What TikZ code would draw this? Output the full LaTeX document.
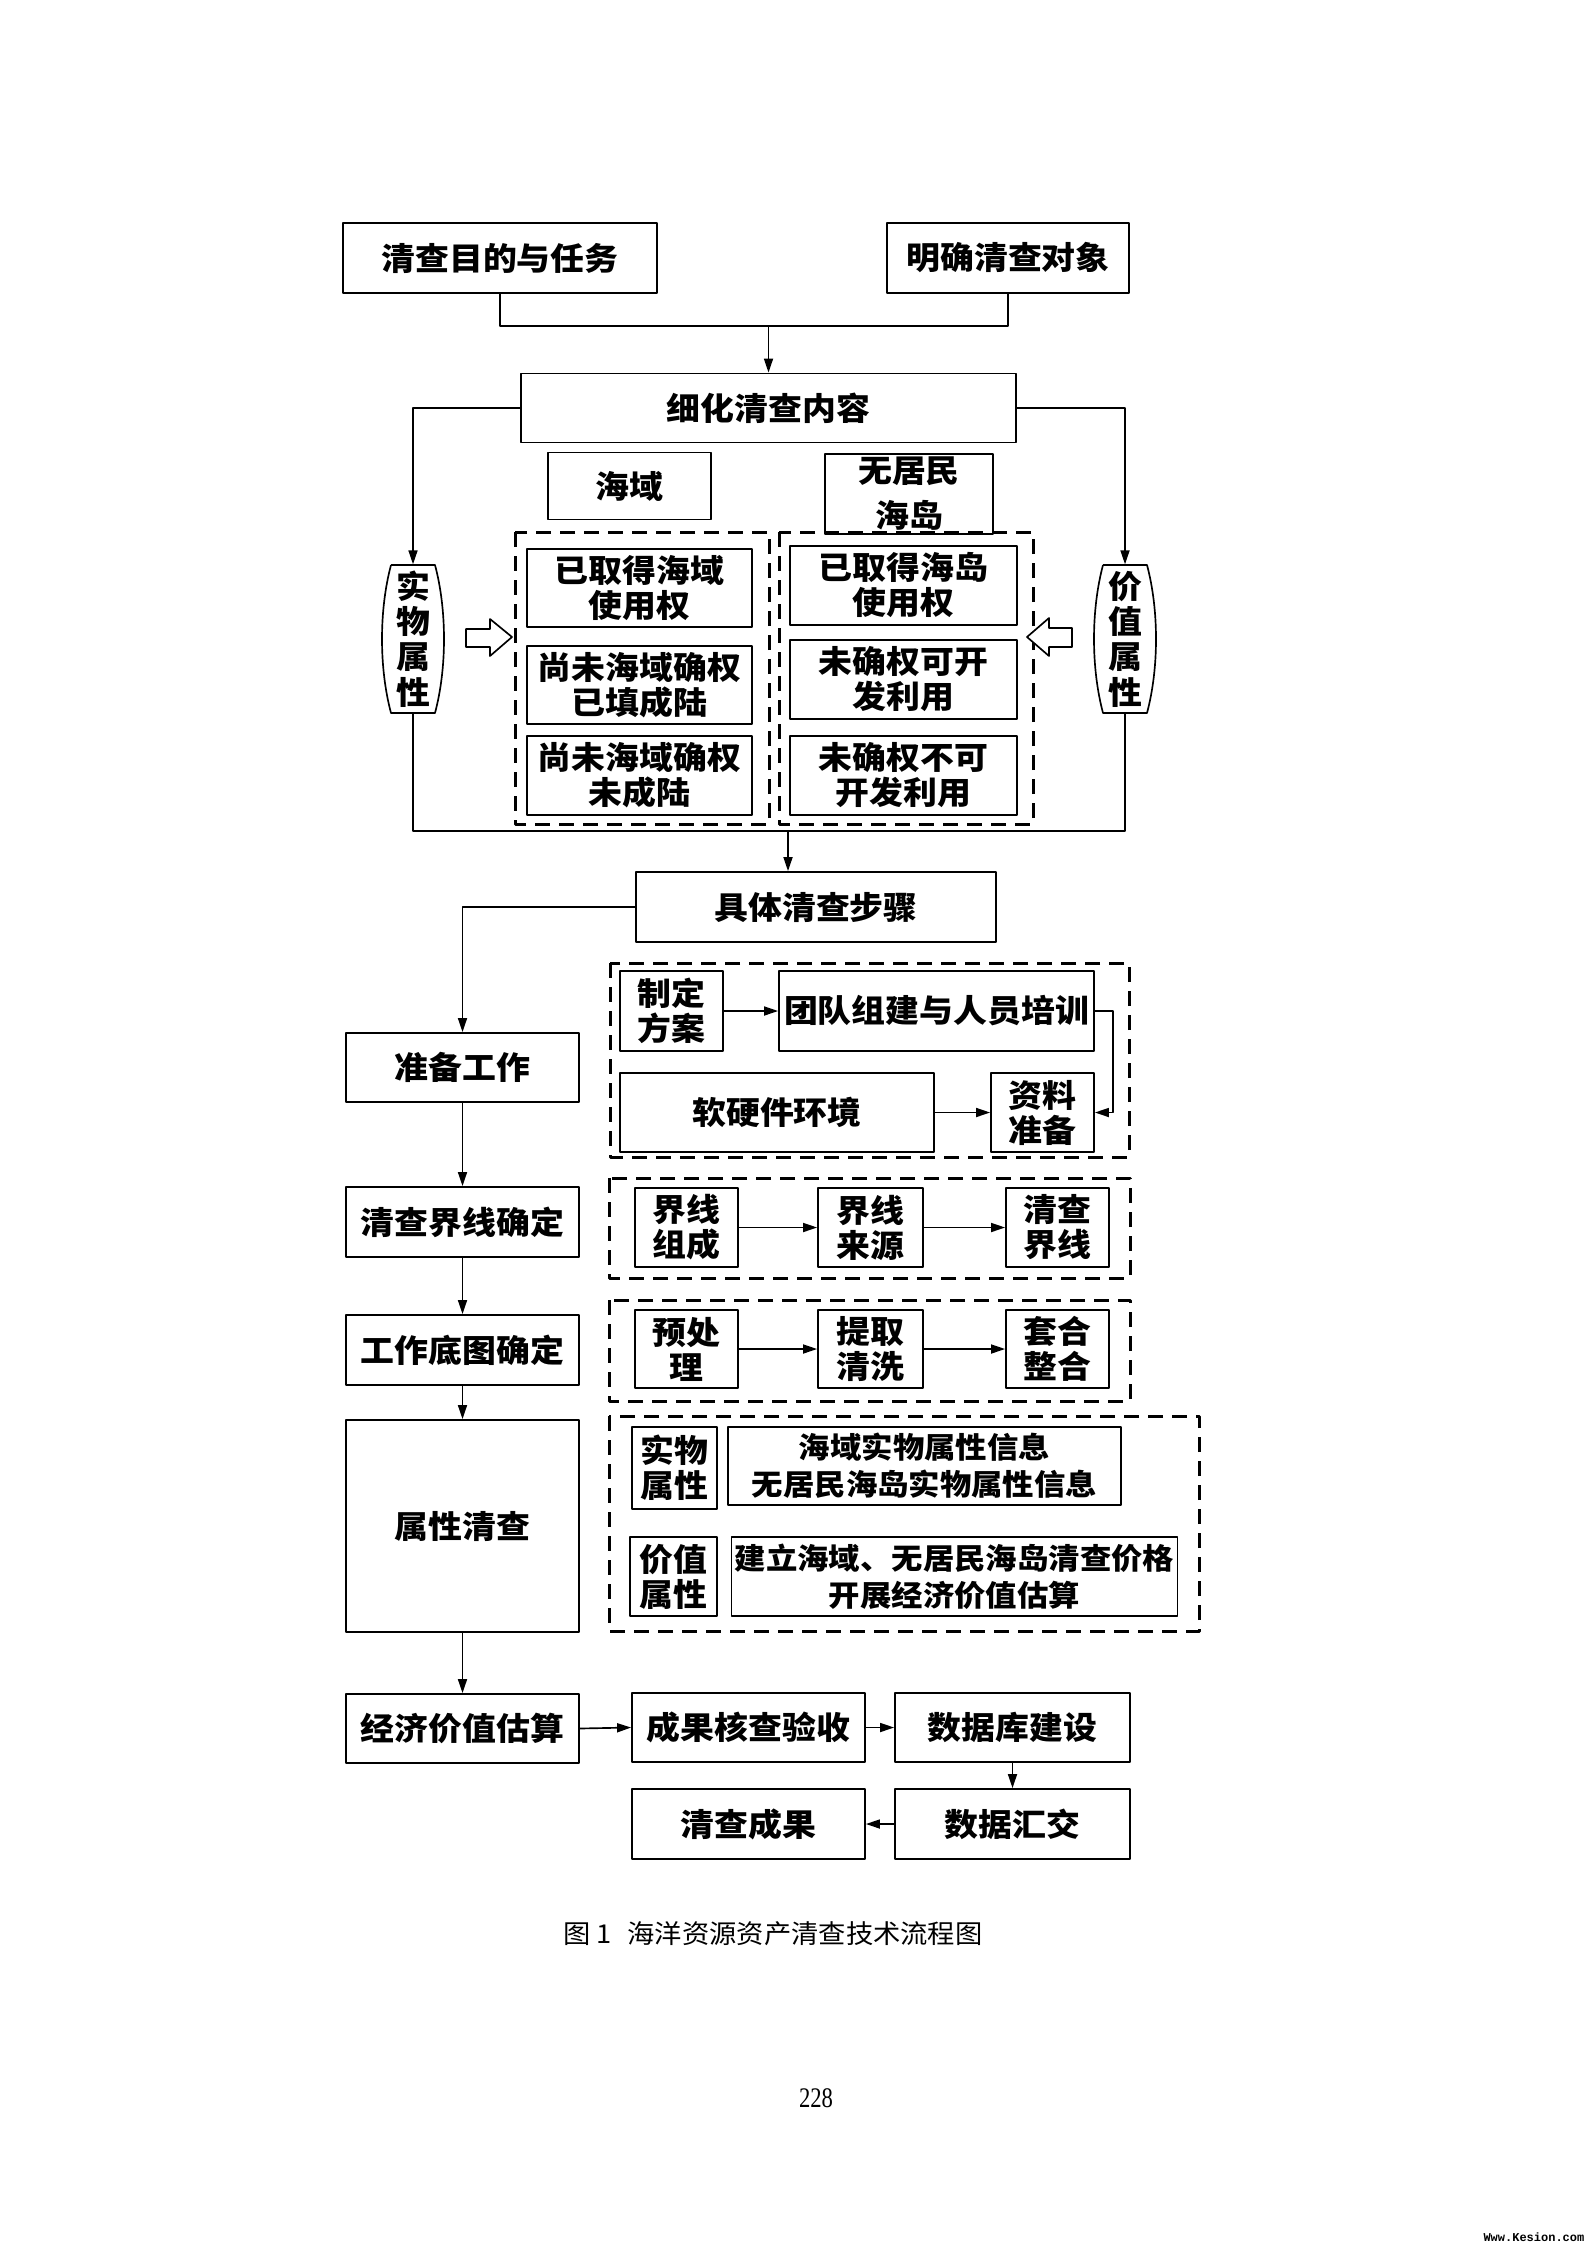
\documentclass[tikz,border=0pt]{standalone}
\usepackage{fontspec}
\setmainfont{Noto Sans CJK SC}[FakeStretch=1.07]
\newfontfamily\capfont{Noto Sans CJK SC}[FakeStretch=1.05]
\newfontfamily\pagefont{Liberation Serif}[FakeStretch=0.8]
\newfontfamily\markfont{Liberation Mono}
\usetikzlibrary{arrows.meta,calc}

\begin{document}
\begin{tikzpicture}[x=0.3pt,y=-0.3pt,line join=round,
  >={Triangle[length=4.2pt,width=2.7pt]},
  box/.style={draw,line width=0.55pt,inner sep=1pt,align=center,
    font=\fontsize{9.5pt}{10.5pt}\selectfont\bfseries},
  smallbox/.style={box,font=\fontsize{8.8pt}{11pt}\selectfont\bfseries},
  vtext/.style={inner sep=0pt,align=center,
    font=\fontsize{9.5pt}{10.6pt}\selectfont\bfseries},
  dashbox/.style={line width=0.9pt,dash pattern=on 4.5pt off 2.7pt},
  link/.style={line width=0.5pt},
  hollow/.style={line width=0.5pt,fill=white}]
  \useasboundingbox[fill=white] (0,0) rectangle (1587,2245);

  \node[box,minimum width=94.2pt,minimum height=21pt] (goal) at (500,258) {清查目的与任务};
  \node[box,minimum width=72.6pt,minimum height=21pt] (object) at (1008,258) {明确清查对象};
  \node[box,minimum width=148.5pt,minimum height=20.7pt] (detail) at (768.5,408) {细化清查内容};
  \node[box,minimum width=48.9pt,minimum height=20.1pt] (sea) at (629.5,486) {海域};
  \node[box,minimum width=50.4pt,minimum height=23.4pt,font=\fontsize{9.5pt}{13.5pt}\selectfont\bfseries] (island) at (909,494) {无居民\\海岛};

  \draw[dashbox] (515,532) rectangle (769,824);
  \draw[dashbox] (779,532) rectangle (1033,824);
  \node[box,minimum width=67.5pt,minimum height=23.4pt] (seaA) at (639.5,588) {已取得海域\\使用权};
  \node[box,minimum width=67.5pt,minimum height=23.4pt] (seaB) at (639.5,685) {尚未海域确权\\已填成陆};
  \node[box,minimum width=67.5pt,minimum height=23.7pt] (seaC) at (639.5,775.5) {尚未海域确权\\未成陆};
  \node[box,minimum width=68.1pt,minimum height=23.7pt] (islA) at (903.5,585.5) {已取得海岛\\使用权};
  \node[box,minimum width=68.1pt,minimum height=23.7pt] (islB) at (903.5,679.5) {未确权可开\\发利用};
  \node[box,minimum width=68.1pt,minimum height=23.7pt] (islC) at (903.5,775.5) {未确权不可\\开发利用};

  \node[vtext,minimum width=18.6pt,minimum height=44.4pt] (phys) at (413,639) {实\\物\\属\\性};
  \node[vtext,minimum width=18.6pt,minimum height=44.4pt] (val) at (1125,639) {价\\值\\属\\性};
  \draw[link] (391,565) -- (435,565) .. controls (447,610) and (447,668) .. (435,713) -- (391,713) .. controls (379,668) and (379,610) .. (391,565);
  \draw[link] (1103,565) -- (1147,565) .. controls (1159,610) and (1159,668) .. (1147,713) -- (1103,713) .. controls (1091,668) and (1091,610) .. (1103,565);
  \draw[hollow] (466,629) -- (490,629) -- (490,619) -- (512,637) -- (490,656) -- (490,647) -- (466,647) -- cycle;
  \draw[hollow] (1072,628) -- (1049,628) -- (1049,618) -- (1027,637) -- (1049,656) -- (1049,647) -- (1072,647) -- cycle;

  \node[box,minimum width=108pt,minimum height=21pt] (steps) at (816,907) {具体清查步骤};
  \node[box,minimum width=69.9pt,minimum height=20.7pt] (prep) at (462.5,1067.5) {准备工作};
  \node[box,minimum width=69.9pt,minimum height=21pt] (bound) at (462.5,1222) {清查界线确定};
  \node[box,minimum width=69.9pt,minimum height=21pt] (base) at (462.5,1350) {工作底图确定};
  \node[box,minimum width=69.9pt,minimum height=63.6pt] (attr) at (462.5,1526) {属性清查};
  \node[box,minimum width=69.9pt,minimum height=20.7pt] (econ) at (462.5,1728.5) {经济价值估算};

  \draw[dashbox] (610,963) rectangle (1129,1157);
  \node[box,minimum width=30.9pt,minimum height=24pt] (plan) at (671.5,1011) {制定\\方案};
  \node[box,minimum width=94.5pt,minimum height=24pt] (team) at (936.5,1011) {团队组建与人员培训};
  \node[box,minimum width=94.2pt,minimum height=23.7pt] (soft) at (777,1112.5) {软硬件环境};
  \node[box,minimum width=30.9pt,minimum height=23.7pt] (data) at (1042.5,1112.5) {资料\\准备};

  \draw[dashbox] (609,1178) rectangle (1130,1278);
  \node[box,minimum width=30.9pt,minimum height=23.7pt] (lineA) at (686.5,1227.5) {界线\\组成};
  \node[box,minimum width=31.5pt,minimum height=23.7pt] (lineB) at (870.5,1227.5) {界线\\来源};
  \node[box,minimum width=30.9pt,minimum height=23.7pt] (lineC) at (1057.5,1227.5) {清查\\界线};

  \draw[dashbox] (609,1300) rectangle (1130,1401);
  \node[box,minimum width=30.9pt,minimum height=23.4pt] (mapA) at (686.5,1349) {预处\\理};
  \node[box,minimum width=31.5pt,minimum height=23.4pt] (mapB) at (870.5,1349) {提取\\清洗};
  \node[box,minimum width=30.9pt,minimum height=23.4pt] (mapC) at (1057.5,1349) {套合\\整合};

  \draw[dashbox] (609,1416) rectangle (1199,1631);
  \node[box,minimum width=25.5pt,minimum height=24.6pt,inner sep=0.5pt] (physT) at (674.5,1468) {实物\\属性};
  \node[smallbox,minimum width=117.9pt,minimum height=23.4pt] (physI) at (924.5,1466) {海域实物属性信息\\无居民海岛实物属性信息};
  \node[box,minimum width=26.1pt,minimum height=23.7pt,inner sep=0.5pt] (valT) at (673.5,1576.5) {价值\\属性};
  \node[smallbox,minimum width=133.5pt,minimum height=23.7pt] (valI) at (954.5,1576.5) {建立海域、无居民海岛清查价格\\开展经济价值估算};

  \node[box,minimum width=69.9pt,minimum height=20.7pt] (check) at (748.5,1727.5) {成果核查验收};
  \node[box,minimum width=70.5pt,minimum height=20.7pt] (db) at (1012.5,1727.5) {数据库建设};
  \node[box,minimum width=69.9pt,minimum height=21pt] (result) at (748.5,1824) {清查成果};
  \node[box,minimum width=70.5pt,minimum height=21pt] (submit) at (1012.5,1824) {数据汇交};

  \coordinate (topjoin) at (768.5,326);
  \coordinate (botjoin) at (788,831);
  \draw[link] (goal.south) |- (topjoin) -| (object.south);
  \draw[link,->] (topjoin) -- (detail.north);
  \draw[link,->] (detail.west) -| (phys.north);
  \draw[link,->] (detail.east) -| (val.north);
  \draw[link] (phys.south) |- (botjoin) -| (val.south);
  \draw[link,->] (botjoin) -- (botjoin |- steps.north);
  \draw[link,->] (steps.west) -| (prep.north);
  \draw[link,->] (prep.south) -- (bound.north);
  \draw[link,->] (bound.south) -- (base.north);
  \draw[link,->] (base.south) -- (attr.north);
  \draw[link,->] (attr.south) -- (econ.north);
  \draw[link,->] (plan.east) -- (team.west);
  \draw[link,->] (soft.east) -- (data.west);
  \draw[link,->] (team.east) -- ++(18,0) |- (data.east);
  \draw[link,->] (lineA.east) -- (lineB.west);
  \draw[link,->] (lineB.east) -- (lineC.west);
  \draw[link,->] (mapA.east) -- (mapB.west);
  \draw[link,->] (mapB.east) -- (mapC.west);
  \draw[link,->] (econ.east) -- (check.west);
  \draw[link,->] (check.east) -- (db.west);
  \draw[link,->] (db.south) -- (submit.north);
  \draw[link,->] (submit.west) -- (result.east);

  \node[font=\capfont\fontsize{7.8pt}{9pt}\selectfont] (caption) at (773,1934) {图 1\hspace{0.6em}海洋资源资产清查技术流程图};
  \node[font=\pagefont\fontsize{8.5pt}{10pt}\selectfont] (page) at (816,2098) {228};
  \node[font=\markfont\bfseries\fontsize{3.6pt}{4pt}\selectfont,anchor=east,inner sep=0pt] (mark) at (1585,2237) {Www.Kesion.com};
\end{tikzpicture}
\end{document}
